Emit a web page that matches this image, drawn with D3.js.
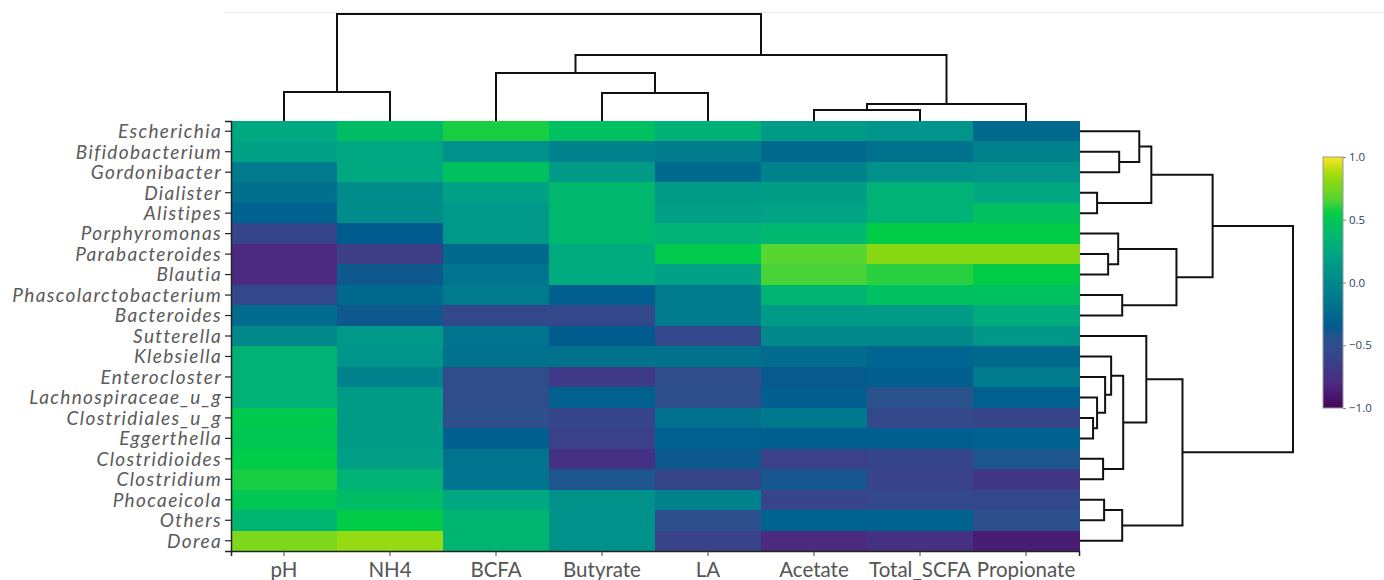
<!DOCTYPE html>
<html>
<head>
<meta charset="utf-8">
<script src="https://cdn.jsdelivr.net/npm/d3@7"></script>
<style>
  html, body { margin: 0; padding: 0; background: #fff; }
  svg { display: block; }
</style>
</head>
<body>
<svg id="chart" width="1384" height="580"></svg>
<script>
// ---- data ----------------------------------------------------------------
const genera = [
  "Escherichia", "Bifidobacterium", "Gordonibacter", "Dialister", "Alistipes",
  "Porphyromonas", "Parabacteroides", "Blautia", "Phascolarctobacterium",
  "Bacteroides", "Sutterella", "Klebsiella", "Enterocloster",
  "Lachnospiraceae_u_g", "Clostridiales_u_g", "Eggerthella", "Clostridioides",
  "Clostridium", "Phocaeicola", "Others", "Dorea"
];

const metabolites = ["pH", "NH4", "BCFA", "Butyrate", "LA", "Acetate", "Total_SCFA", "Propionate"];

// correlation coefficients, one row per genus, columns in metabolite order
const corr = [
  [ 0.25,  0.42,  0.58,  0.45,  0.32,  0.15,  0.10, -0.25],
  [ 0.20,  0.25,  0.08, -0.05, -0.10, -0.25, -0.18, -0.05],
  [-0.12,  0.25,  0.45,  0.15, -0.25, -0.05,  0.08,  0.10],
  [-0.20,  0.03,  0.20,  0.38,  0.15,  0.17,  0.33,  0.25],
  [-0.30,  0.03,  0.13,  0.38,  0.18,  0.22,  0.33,  0.45],
  [-0.58, -0.35,  0.13,  0.38,  0.33,  0.37,  0.55,  0.55],
  [-0.80, -0.65, -0.25,  0.28,  0.53,  0.67,  0.80,  0.80],
  [-0.80, -0.38, -0.17,  0.27,  0.20,  0.64,  0.60,  0.55],
  [-0.55, -0.25, -0.12, -0.33, -0.12,  0.35,  0.45,  0.45],
  [-0.23, -0.38, -0.55, -0.55, -0.10,  0.15,  0.15,  0.28],
  [ 0.00,  0.13, -0.17, -0.35, -0.55,  0.00,  0.00,  0.12],
  [ 0.33,  0.10, -0.18, -0.18, -0.18, -0.22, -0.28, -0.25],
  [ 0.33, -0.05, -0.50, -0.67, -0.50, -0.37, -0.33, -0.12],
  [ 0.33,  0.15, -0.50, -0.32, -0.48, -0.33, -0.45, -0.32],
  [ 0.52,  0.15, -0.48, -0.58, -0.18, -0.13, -0.55, -0.58],
  [ 0.50,  0.15, -0.33, -0.62, -0.32, -0.33, -0.33, -0.32],
  [ 0.55,  0.18, -0.17, -0.75, -0.38, -0.62, -0.58, -0.42],
  [ 0.58,  0.33, -0.17, -0.42, -0.58, -0.40, -0.60, -0.70],
  [ 0.50,  0.42,  0.25,  0.08, -0.05, -0.58, -0.55, -0.55],
  [ 0.35,  0.55,  0.35,  0.08, -0.48, -0.30, -0.30, -0.48],
  [ 0.77,  0.83,  0.35,  0.08, -0.60, -0.80, -0.75, -0.87]
];

// hierarchical clustering of metabolites: [childA, childB, distance]; "#k" = k-th merge
const metaboliteLinkage = [
  ["Acetate", "Total_SCFA", 0.22],
  ["#0", "Propionate", 0.34],
  ["Butyrate", "LA", 0.56],
  ["pH", "NH4", 0.58],
  ["BCFA", "#2", 0.96],
  ["#4", "#1", 1.32],
  ["#3", "#5", 2.14]
];

// hierarchical clustering of genera
const genusLinkage = [
  ["Clostridiales_u_g", "Eggerthella", 0.26],
  ["Lachnospiraceae_u_g", "#0", 0.34],
  ["Dialister", "Alistipes", 0.34],
  ["Clostridioides", "Clostridium", 0.46],
  ["Phocaeicola", "Others", 0.48],
  ["Enterocloster", "#1", 0.50],
  ["Parabacteroides", "Blautia", 0.56],
  ["Klebsiella", "#5", 0.62],
  ["Porphyromonas", "#6", 0.76],
  ["Bifidobacterium", "Gordonibacter", 0.78],
  ["Phascolarctobacterium", "Bacteroides", 0.84],
  ["#4", "Dorea", 0.84],
  ["#7", "#3", 0.86],
  ["Escherichia", "#9", 1.18],
  ["Sutterella", "#12", 1.32],
  ["#13", "#2", 1.42],
  ["#8", "#10", 1.92],
  ["#14", "#11", 2.04],
  ["#15", "#16", 2.64],
  ["#18", "#17", 4.24]
];

const colorbarTicks = [1.0, 0.5, 0.0, -0.5, -1.0];

// ---- colour scale (viridis-like) ----------------------------------------
const colorStops  = [-1.0, -0.8, -0.6, -0.45, -0.35, -0.2, -0.05, 0.1, 0.25, 0.4, 0.55, 0.65, 0.8, 0.9, 1.0];
const colorValues = ["#45065c", "#4b2a80", "#38438a", "#2a528c", "#005c8f", "#00708e", "#00828c",
                     "#00948a", "#00a882", "#00bb6a", "#00cc48", "#50d436", "#88d814", "#b8de10", "#fae622"];
const color = d3.scaleLinear().domain(colorStops).range(colorValues)
  .interpolate(d3.interpolateRgb).clamp(true);

// ---- layout ---------------------------------------------------------------
const svg = d3.select("#chart");
const hm = { left: 231, right: 1079, top: 121, bottom: 551 };

const x = d3.scaleBand().domain(metabolites).range([hm.left, hm.right]);
const y = d3.scaleBand().domain(genera).range([hm.top, hm.bottom]);

// faint frame line above the column dendrogram
svg.append("line")
  .attr("x1", 226).attr("x2", 1384).attr("y1", 12.5).attr("y2", 12.5)
  .attr("stroke", "#ececec").attr("stroke-width", 1);

// ---- heatmap cells --------------------------------------------------------
const cells = [];
genera.forEach((g, i) => metabolites.forEach((m, j) => cells.push({ g, m, v: corr[i][j] })));

svg.append("g").attr("shape-rendering", "crispEdges")
  .selectAll("rect").data(cells).join("rect")
  .attr("x", d => x(d.m))
  .attr("y", d => y(d.g))
  .attr("width", x.bandwidth() + 0.5)
  .attr("height", y.bandwidth() + 0.5)
  .attr("fill", d => color(d.v));

// ---- axes -----------------------------------------------------------------
const yAxis = svg.append("g")
  .attr("transform", `translate(${hm.left},0)`)
  .call(d3.axisLeft(y).tickSize(6).tickPadding(3));
yAxis.select(".domain").attr("stroke", "#222").attr("stroke-width", 1.5);
yAxis.selectAll(".tick line").attr("stroke", "#222").attr("stroke-width", 1.2);
yAxis.selectAll("text")
  .attr("dy", "0.36em")
  .attr("font-family", "Lato, 'Open Sans', sans-serif")
  .attr("font-style", "italic")
  .attr("font-size", 19)
  .attr("letter-spacing", "1.35px")
  .attr("fill", "#5a5a5a");

const xAxis = svg.append("g")
  .attr("transform", `translate(0,${hm.bottom})`)
  .call(d3.axisBottom(x).tickSize(5).tickPadding(4));
xAxis.select(".domain").attr("stroke", "#222").attr("stroke-width", 1.5);
xAxis.selectAll(".tick line").attr("stroke", "#444").attr("stroke-width", 1);
xAxis.selectAll("text")
  .attr("y", 26).attr("dy", 0)
  .attr("font-family", "Lato, 'Open Sans', sans-serif")
  .attr("font-size", 20.5)
  .attr("fill", "#555");

// ---- dendrograms ----------------------------------------------------------
// Build node positions (leaf position along the axis, merge height) from a linkage list.
function buildLinks(linkage, leafPos) {
  const nodes = [];
  const get = key => key.startsWith("#") ? nodes[+key.slice(1)] : { p: leafPos(key), h: 0 };
  const links = [];
  linkage.forEach(([a, b, h]) => {
    const na = get(a), nb = get(b);
    links.push({ a: na, b: nb, h });
    nodes.push({ p: (na.p + nb.p) / 2, h });
  });
  return links;
}

const colHeight = d3.scaleLinear().domain([0, 2.14]).range([hm.top, 14]);
const rowHeight = d3.scaleLinear().domain([0, 4.24]).range([hm.right + 1, 1293]);

const colLinks = buildLinks(metaboliteLinkage, k => x(k) + x.bandwidth() / 2);
const rowLinks = buildLinks(genusLinkage, k => y(k) + y.bandwidth() / 2);

const line = d3.line();
svg.append("g").selectAll("path").data(colLinks).join("path")
  .attr("d", d => line([
    [d.a.p, colHeight(d.a.h)], [d.a.p, colHeight(d.h)],
    [d.b.p, colHeight(d.h)], [d.b.p, colHeight(d.b.h)]
  ]))
  .attr("fill", "none").attr("stroke", "#111").attr("stroke-width", 2);

svg.append("g").selectAll("path").data(rowLinks).join("path")
  .attr("d", d => line([
    [rowHeight(d.a.h), d.a.p], [rowHeight(d.h), d.a.p],
    [rowHeight(d.h), d.b.p], [rowHeight(d.b.h), d.b.p]
  ]))
  .attr("fill", "none").attr("stroke", "#111").attr("stroke-width", 2);

// ---- colour bar -----------------------------------------------------------
const cb = { x: 1323, y: 157, w: 20, h: 251 };
const cbScale = d3.scaleLinear().domain([-1, 1]).range([cb.y + cb.h, cb.y]);

const grad = svg.append("defs").append("linearGradient")
  .attr("id", "cbGrad").attr("x1", 0).attr("x2", 0).attr("y1", 1).attr("y2", 0);
d3.range(0, 1.0001, 0.02).forEach(t => {
  grad.append("stop").attr("offset", t).attr("stop-color", color(-1 + 2 * t));
});

svg.append("rect")
  .attr("x", cb.x).attr("y", cb.y).attr("width", cb.w).attr("height", cb.h)
  .attr("fill", "url(#cbGrad)")
  .attr("stroke", "#999").attr("stroke-width", 1);

const cbAxis = svg.append("g")
  .attr("transform", `translate(${cb.x + cb.w},0)`)
  .call(d3.axisRight(cbScale).tickValues(colorbarTicks).tickSize(3).tickPadding(3)
    .tickFormat(d3.format(".1f")));
cbAxis.select(".domain").remove();
cbAxis.selectAll(".tick line").attr("stroke", "#888");
cbAxis.selectAll("text")
  .attr("font-family", "'Open Sans', 'DejaVu Sans', sans-serif")
  .attr("font-size", 11.5)
  .attr("fill", "#2a3f5f");
</script>
</body>
</html>
